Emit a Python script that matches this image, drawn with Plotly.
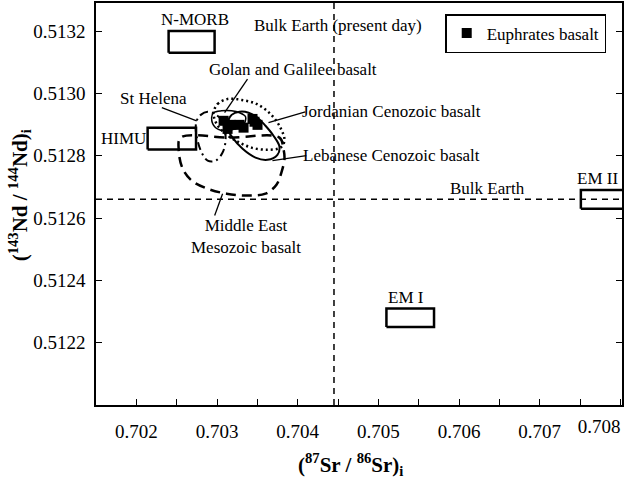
import plotly.graph_objects as go

# ---------------- data ----------------
# Euphrates basalt samples: (87Sr/86Sr)i and (143Nd/144Nd)i
euph_sr = [0.703082, 0.703131, 0.703168, 0.703279, 0.703329, 0.703440, 0.703502, 0.703465]
euph_nd = [0.512912, 0.512886, 0.512899, 0.512899, 0.512890, 0.512918, 0.512899, 0.512909]

# mantle end-member boxes: [sr_min, sr_max, nd_min, nd_max]
nmorb_box = [0.70240, 0.70297, 0.51313, 0.51320]
himu_box = [0.70214, 0.70274, 0.51282, 0.51289]
em1_box = [0.70510, 0.70569, 0.51225, 0.51231]
em2_box = [0.70751, 0.70820, 0.51263, 0.51269]

# Bulk Earth reference values
bulk_earth_sr = 0.70445
bulk_earth_nd = 0.51266

# field outlines (Sr, Nd vertices)
me_meso_sr = [0.702550, 0.703156, 0.703774, 0.703823, 0.703836, 0.703798, 0.703737, 0.703601,
              0.703366, 0.703119, 0.702884, 0.702686, 0.702575, 0.702526, 0.702550]
me_meso_nd = [0.512858, 0.512858, 0.512858, 0.512822, 0.512790, 0.512746, 0.512707, 0.512678,
              0.512672, 0.512678, 0.512694, 0.512720, 0.512758, 0.512816, 0.512858]

st_helena_sr = [0.702748, 0.702798, 0.702884, 0.702971, 0.703045, 0.703094, 0.703106, 0.703069,
                0.702983, 0.702884, 0.702810, 0.702760, 0.702736, 0.702748]
st_helena_nd = [0.512912, 0.512931, 0.512941, 0.512934, 0.512918, 0.512886, 0.512848, 0.512810,
                0.512784, 0.512784, 0.512810, 0.512848, 0.512886, 0.512912]

golan_sr = [0.702933, 0.702958, 0.703057, 0.703181, 0.703279, 0.703354, 0.703329, 0.703230,
            0.703082, 0.702971, 0.702933]
golan_nd = [0.512922, 0.512938, 0.512944, 0.512944, 0.512938, 0.512925, 0.512899, 0.512886,
            0.512880, 0.512893, 0.512922]

lebanese_sr = [0.703131, 0.703181, 0.703279, 0.703391, 0.703502, 0.703601, 0.703700, 0.703774,
               0.703749, 0.703625, 0.703477, 0.703317, 0.703193, 0.703131, 0.703131]
lebanese_nd = [0.512906, 0.512931, 0.512941, 0.512938, 0.512922, 0.512896, 0.512864, 0.512829,
               0.512803, 0.512787, 0.512794, 0.512822, 0.512858, 0.512886, 0.512906]

jordan_sr = [0.702958, 0.703008, 0.703131, 0.703304, 0.703490, 0.703663, 0.703786, 0.703836,
             0.703786, 0.703625, 0.703428, 0.703255, 0.703106, 0.702995, 0.702958]
jordan_nd = [0.512938, 0.512966, 0.512982, 0.512979, 0.512966, 0.512934, 0.512890, 0.512848,
             0.512826, 0.512819, 0.512826, 0.512845, 0.512870, 0.512902, 0.512938]

# labels: (text, sr, nd)
label_text = ["N-MORB", "Bulk Earth (present day)", "Golan and Galilee basalt", "St Helena",
              "HIMU", "Jordanian Cenozoic basalt", "Lebanese Cenozoic basalt",
              "Middle East<br>Mesozoic basalt", "Bulk Earth", "EM I", "EM II"]
label_sr = [0.702723, 0.704503, 0.703947, 0.702217, 0.701846, 0.705158, 0.705158,
            0.703354, 0.706356, 0.705343, 0.707716]
label_nd = [0.513238, 0.513219, 0.513078, 0.512982, 0.512854, 0.512941, 0.512800,
            0.512541, 0.512694, 0.512346, 0.512726]

# leader lines: (sr_start, nd_start, sr_end, nd_end)
leader_lines = [
    (0.702316, 0.512954, 0.702748, 0.512912),   # St Helena
    (0.703378, 0.513046, 0.703094, 0.512938),   # Golan and Galilee
    (0.704095, 0.512941, 0.703638, 0.512906),   # Jordanian
    (0.704107, 0.512800, 0.703687, 0.512784),   # Lebanese
    (0.703069, 0.512678, 0.702971, 0.512608),   # Middle East
]

x_ticks = [0.702, 0.703, 0.704, 0.705, 0.706, 0.707]
x_edge_tick = [0.708]
y_ticks = [0.5122, 0.5124, 0.5126, 0.5128, 0.5130, 0.5132]

X_RANGE = [0.7015, 0.70802]
Y_RANGE = [0.5120, 0.51329]

# ---------------- figure ----------------
FONT = "Liberation Serif, Times New Roman, serif"
fig = go.Figure()


def box_trace(b):
    return go.Scatter(x=[b[0], b[1], b[1], b[0], b[0]], y=[b[2], b[2], b[3], b[3], b[2]],
                      mode="lines", line=dict(color="black", width=2.5),
                      showlegend=False, hoverinfo="skip")


for b in (nmorb_box, himu_box, em1_box, em2_box):
    fig.add_trace(box_trace(b))

# Bulk Earth lines
fig.add_trace(go.Scatter(x=[bulk_earth_sr, bulk_earth_sr], y=Y_RANGE, mode="lines",
                         line=dict(color="black", width=1.5, dash="6px,5px"),
                         showlegend=False, hoverinfo="skip"))
fig.add_trace(go.Scatter(x=X_RANGE, y=[bulk_earth_nd, bulk_earth_nd], mode="lines",
                         line=dict(color="black", width=1.5, dash="6px,5px"),
                         showlegend=False, hoverinfo="skip"))

fields = [
    (me_meso_sr, me_meso_nd, 2.5, "10px,6px"),
    (st_helena_sr, st_helena_nd, 2.0, "8px,4px,2px,4px"),
    (jordan_sr, jordan_nd, 2.5, "2px,3px"),
    (lebanese_sr, lebanese_nd, 2.0, "solid"),
    (golan_sr, golan_nd, 1.5, "solid"),
]
for xs, ys, w, d in fields:
    fig.add_trace(go.Scatter(x=xs, y=ys, mode="lines",
                             line=dict(color="black", width=w, dash=d, shape="spline",
                                       smoothing=1.0),
                             showlegend=False, hoverinfo="skip"))

for x0, y0, x1, y1 in leader_lines:
    fig.add_trace(go.Scatter(x=[x0, x1], y=[y0, y1], mode="lines",
                             line=dict(color="black", width=1.3),
                             showlegend=False, hoverinfo="skip"))

fig.add_trace(go.Scatter(x=euph_sr, y=euph_nd, mode="markers", name="Euphrates basalt",
                         marker=dict(symbol="square", size=10, color="black",
                                     line=dict(width=0))))

# invisible trace to carry the secondary x axis (edge tick label)
fig.add_trace(go.Scatter(x=x_edge_tick, y=[bulk_earth_nd], xaxis="x2", mode="markers",
                         marker=dict(size=0.1, opacity=0), showlegend=False,
                         hoverinfo="skip"))

for t, x, y in zip(label_text, label_sr, label_nd):
    fig.add_annotation(x=x, y=y, text=t, showarrow=False, xanchor="center", yanchor="middle",
                       font=dict(family=FONT, size=17, color="black"))

# axis titles
fig.add_annotation(xref="paper", yref="paper", x=0.483, y=-0.147,
                   text="<b>(<sup>87</sup>Sr / <sup>86</sup>Sr)<sub>i</sub></b>",
                   showarrow=False, xanchor="center", yanchor="middle",
                   font=dict(family=FONT, size=21, color="black"))
fig.add_annotation(xref="paper", yref="paper", x=-0.146, y=0.522,
                   text="<b>(<sup>143</sup>Nd / <sup>144</sup>Nd)<sub>i</sub></b>",
                   showarrow=False, xanchor="center", yanchor="middle", textangle=-90,
                   font=dict(family=FONT, size=21, color="black"))

fig.update_layout(
    width=627, height=483,
    margin=dict(l=96, r=5, t=3, b=78, autoexpand=False),
    paper_bgcolor="white", plot_bgcolor="white",
    font=dict(family=FONT, size=19, color="black"),
    legend=dict(x=0.97, y=0.9726, xanchor="right", yanchor="top",
                bgcolor="white", bordercolor="black", borderwidth=1.5,
                font=dict(family=FONT, size=17, color="black"), itemwidth=30),
    xaxis=dict(range=X_RANGE, showgrid=False, zeroline=False, showline=True,
               linecolor="black", linewidth=1.5, mirror=True, automargin=False,
               tickmode="array", tickvals=x_ticks, tickformat=".3f",
               ticks="inside", ticklen=6, tickwidth=1.2, tickcolor="black",
               ticklabelstandoff=8,
               minor=dict(dtick=0.0005, tick0=0.7015, ticks="inside", ticklen=6,
                          tickwidth=1.2, tickcolor="black", showgrid=False)),
    xaxis2=dict(range=X_RANGE, overlaying="x", side="bottom", anchor="y",
                showgrid=False, zeroline=False, showline=False, automargin=False,
                tickmode="array", tickvals=x_edge_tick, tickformat=".3f",
                ticks="", ticklabelposition="outside left", ticklabelstandoff=8,
                ticklabeloverflow="allow"),
    yaxis=dict(range=Y_RANGE, showgrid=False, zeroline=False, showline=True,
               linecolor="black", linewidth=1.5, mirror="ticks", automargin=False,
               tickmode="array", tickvals=y_ticks, tickformat=".4f",
               ticks="inside", ticklen=6, tickwidth=1.2, tickcolor="black",
               ticklabelstandoff=5),
)

fig.write_html("out.html", config={"displayModeBar": False},
               post_script="document.body.style.margin='0px';"
                           "document.body.style.overflow='hidden';")
